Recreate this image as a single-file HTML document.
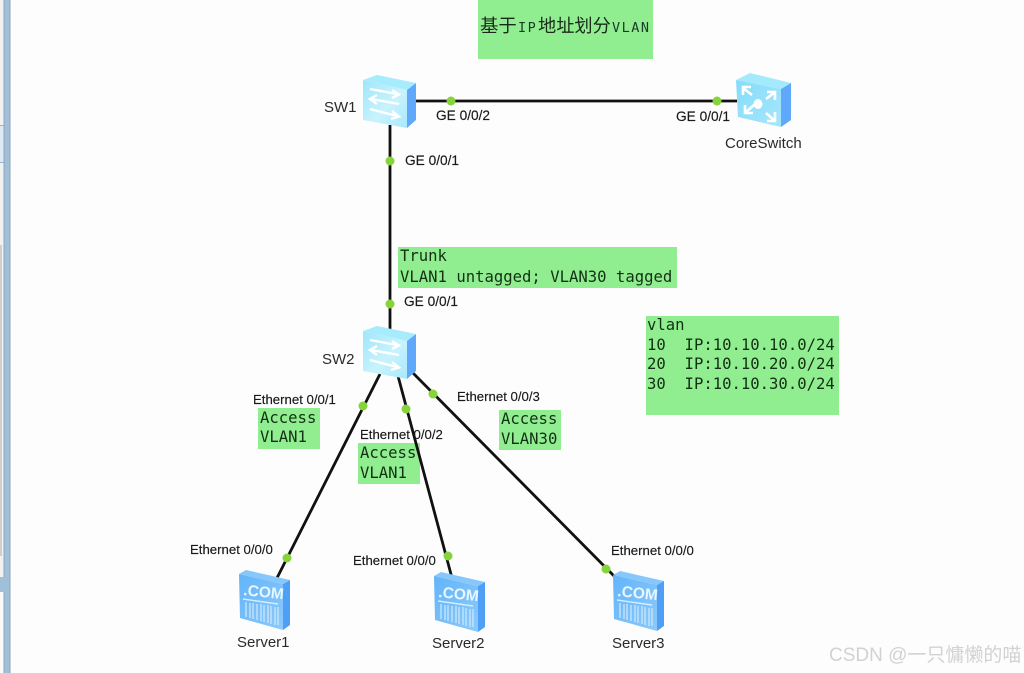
<!DOCTYPE html>
<html><head><meta charset="utf-8"><style>
html,body{margin:0;padding:0;background:#fdfdfd;width:1024px;height:673px;overflow:hidden}
svg{display:block;filter:blur(.35px)}
.l{font:13.2px "Liberation Sans",sans-serif;fill:#1a1a1a;stroke:#1a1a1a;stroke-width:.15}
.ge{font-size:13.7px}
.n{font:15px "Liberation Sans",sans-serif;fill:#2a2a2a}
.m{font:15.6px "DejaVu Sans Mono",monospace;fill:#143014}
.g{fill:#90ee90}
.d{fill:#86d33c}
.w{font:19px "Liberation Sans","Noto Sans CJK SC",sans-serif;fill:#d2d2d2}
</style></head><body>
<svg width="1024" height="673" viewBox="0 0 1024 673" xmlns="http://www.w3.org/2000/svg">
<defs>
<linearGradient id="sf" x1="0" y1="0" x2="1" y2="1"><stop offset="0" stop-color="#9fe6fb"/><stop offset=".55" stop-color="#c8f3fd"/><stop offset="1" stop-color="#a9e8fb"/></linearGradient>
<linearGradient id="cf" x1="0" y1="0" x2="1" y2="1"><stop offset="0" stop-color="#86dcfa"/><stop offset="1" stop-color="#a6e6fb"/></linearGradient>
<linearGradient id="vf" x1="0" y1="0" x2="1" y2="1"><stop offset="0" stop-color="#63b4fa"/><stop offset="1" stop-color="#8ccafb"/></linearGradient>
<g id="sw">
<path d="M1 6 L15 1 L54 9 L45 16 Z" fill="#a7ecfd"/>
<path d="M1 6 L45 16 L45 54 L1 46 Z" fill="url(#sf)"/>
<path d="M45 16 L54 9 L54 46 L45 54 Z" fill="#5fa8fb"/>
<g fill="none" stroke="#fff" stroke-width="2.4">
<path d="M8 15 L35 20 M30 16 L37 20.5 L30 24"/>
<path d="M37 30 L9 25 M15 21 L8 25 L15 30"/>
<path d="M8 35 L35 42 M30 37 L37 42.5 L29 45"/>
</g>
</g>
<g id="sv">
<path d="M-1 4 L6 0 L50 10 L43 14 Z" fill="#87c7fb"/>
<path d="M-1 4 L43 14 L43 60 L0 48 Z" fill="url(#vf)"/>
<path d="M43 14 L50 10 L50 55 L43 60 Z" fill="#4f9ff6"/>
<text x="3" y="25" transform="rotate(6 3 25)" font-family="Liberation Sans" font-size="15.5" font-weight="bold" fill="#e8f6ff">.COM</text>
<path d="M3 29 L38 34" stroke="#d4edff" stroke-width="1.4"/>
<g stroke="#cbe6fd" stroke-width="1.3">
<path d="M6 32V47M10 33V48M13 33V49M17 34V50M21 34V51M24 35V52M28 35V53M31 36V54M35 37V55M38 37V55"/>
</g>
</g>
</defs>

<!-- left window strip -->
<rect x="0" y="0" width="10.5" height="673" fill="#a2bfd8"/>
<rect x="9.5" y="0" width="1" height="673" fill="#8ea6bf"/>
<rect x="0" y="0" width="3.5" height="577" fill="#f1f1f1"/>
<rect x="0" y="126" width="3.5" height="36" fill="#dfeaf7"/>
<rect x="0" y="245" width="2" height="311" fill="#cfcfcf"/>
<rect x="0" y="592" width="3.5" height="81" fill="#fafafa"/>
<rect x="3.5" y="0" width="1" height="577" fill="#8ea6bf"/>
<rect x="3.5" y="592" width="1" height="81" fill="#8ea6bf"/>
<rect x="0" y="125" width="3.5" height="1" fill="#9db0c4"/>
<rect x="0" y="162" width="3.5" height="1" fill="#9db0c4"/>

<!-- green notes -->
<rect class="g" x="478" y="0" width="175" height="59"/>
<rect class="g" x="398" y="247" width="279" height="41"/>
<rect class="g" x="646" y="316" width="193" height="99"/>
<rect class="g" x="258" y="408" width="62" height="41"/>
<rect class="g" x="358" y="443" width="62" height="41"/>
<rect class="g" x="499" y="410" width="62" height="40"/>

<!-- links -->
<g stroke="#111" stroke-width="2.8" fill="none">
<path d="M412 101 H737"/>
<path d="M390 125 V330"/>
<path d="M380 374 L277 578"/>
<path d="M398 376 L452 578"/>
<path d="M412 372 L618 580"/>
</g>
<circle class="d" cx="451" cy="101" r="4.5"/>
<circle class="d" cx="717" cy="101" r="4.5"/>
<circle class="d" cx="390" cy="161" r="4.5"/>
<circle class="d" cx="390" cy="304" r="4.5"/>
<circle class="d" cx="363" cy="406" r="4.5"/>
<circle class="d" cx="406" cy="409" r="4.5"/>
<circle class="d" cx="433" cy="394" r="4.5"/>
<circle class="d" cx="287" cy="558" r="4.5"/>
<circle class="d" cx="448" cy="556" r="4.5"/>
<circle class="d" cx="606" cy="569" r="4.5"/>

<!-- devices -->
<use href="#sw" x="362" y="74"/>
<use href="#sw" x="362" y="325"/>
<g>
<path d="M736 80 L750 73 L791 83 L781 89 Z" fill="#a5e9fd"/>
<path d="M736 80 L781 89 L781 127 L738 117 Z" fill="url(#cf)"/>
<path d="M781 89 L791 83 L791 120 L781 127 Z" fill="#5fa8fb"/>
<g fill="none" stroke="#fff" stroke-width="2.6">
<path d="M743 88 L752 95 M743 95 V87 H751"/>
<path d="M775 92 L766 99 M775 100 V92 H767"/>
<path d="M745 113 L754 105 M745 105 V113 H753"/>
<path d="M775 121 L766 113 M775 112 V121 H767"/>
</g>
<ellipse cx="758" cy="104" rx="4.5" ry="5" fill="#fff"/>
</g>
<use href="#sv" x="240" y="570"/>
<use href="#sv" x="435" y="572"/>
<use href="#sv" x="614" y="571"/>

<!-- device names -->
<text class="n" x="324" y="112">SW1</text>
<text class="n" x="322" y="364">SW2</text>
<text class="n" x="725" y="148">CoreSwitch</text>
<text class="n" x="237" y="647">Server1</text>
<text class="n" x="432" y="648">Server2</text>
<text class="n" x="612" y="648">Server3</text>

<!-- interface labels -->
<text class="l ge" x="436" y="120">GE 0/0/2</text>
<text class="l ge" x="676" y="121">GE 0/0/1</text>
<text class="l ge" x="405" y="165">GE 0/0/1</text>
<text class="l ge" x="404" y="306">GE 0/0/1</text>
<text class="l" x="253" y="404">Ethernet 0/0/1</text>
<text class="l" x="360" y="439">Ethernet 0/0/2</text>
<text class="l" x="457" y="401">Ethernet 0/0/3</text>
<text class="l" x="190" y="554">Ethernet 0/0/0</text>
<text class="l" x="353" y="565">Ethernet 0/0/0</text>
<text class="l" x="611" y="555">Ethernet 0/0/0</text>

<!-- note text -->
<text x="480" y="32" font-family="Liberation Sans,Noto Sans CJK SC,sans-serif" font-size="18.4" fill="#1a2a1a">基于</text>
<text x="518" y="32" font-family="DejaVu Sans Mono,monospace" font-size="13.5" letter-spacing="1.5" fill="#1a3a2a">IP</text>
<text x="538" y="32" font-family="Noto Sans CJK SC,sans-serif" font-size="18.2" fill="#1a2a1a">地址划分</text>
<text x="612" y="32" font-family="DejaVu Sans Mono,monospace" font-size="13.5" letter-spacing="1.5" fill="#1a3a2a">VLAN</text>

<text class="m" x="400" y="261">Trunk</text>
<text class="m" x="400" y="282">VLAN1 untagged; VLAN30 tagged</text>

<text class="m" x="647" y="330">vlan</text>
<text class="m" x="647" y="350" xml:space="preserve">10  IP:10.10.10.0/24</text>
<text class="m" x="647" y="369" xml:space="preserve">20  IP:10.10.20.0/24</text>
<text class="m" x="647" y="389" xml:space="preserve">30  IP:10.10.30.0/24</text>

<text class="m" x="260" y="423">Access</text>
<text class="m" x="260" y="442">VLAN1</text>
<text class="m" x="360" y="458">Access</text>
<text class="m" x="360" y="478">VLAN1</text>
<text class="m" x="501" y="424">Access</text>
<text class="m" x="501" y="444">VLAN30</text>

<text class="w" x="829" y="661">CSDN @一只慵懒的喵</text>
</svg>
</body></html>
